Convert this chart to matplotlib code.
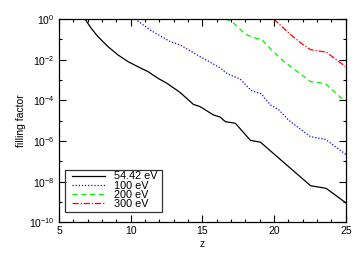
import matplotlib
matplotlib.use("Agg")
import matplotlib.pyplot as plt
import numpy as np
from matplotlib.ticker import FixedLocator, MultipleLocator, FuncFormatter
from matplotlib.patches import Rectangle

plt.rcParams['font.family'] = ['Liberation Sans', 'DejaVu Sans']
plt.rcParams['mathtext.fontset'] = 'custom'
plt.rcParams['mathtext.rm'] = 'Liberation Sans'
plt.rcParams['mathtext.it'] = 'Liberation Sans:italic'

# data: redshift z and log10(filling factor)
z_5442 = [6.81, 7.25, 7.72, 8.42, 9.12, 9.82, 10.51, 11.21, 11.91, 12.52, 13.44, 14.37, 14.84,
          15.77, 16.23, 16.6, 17.3, 18.35, 19.05, 22.54, 23.63, 25.0]
lg_5442 = [0.0, -0.46, -0.87, -1.36, -1.77, -2.10, -2.35, -2.59, -2.92, -3.16, -3.61, -4.20, -4.31,
           -4.72, -4.82, -5.05, -5.13, -5.97, -6.06, -8.20, -8.33, -9.04]

z_100 = [10.3, 11.35, 12.75, 13.45, 14.84, 15.68, 16.23, 16.75, 17.63, 18.4, 19.1, 19.75,
         20.35, 21.0, 21.84, 22.54, 23.58, 25.0]
lg_100 = [0.0, -0.54, -1.11, -1.28, -1.85, -2.18, -2.40, -2.70, -2.95, -3.52, -3.68, -4.23,
          -4.48, -4.97, -5.42, -5.79, -5.92, -6.66]

z_200 = [16.6, 17.07, 18.0, 18.5, 19.15, 19.95, 20.7, 21.7, 22.54, 23.58, 24.7, 25.0]
lg_200 = [0.0, -0.13, -0.75, -0.90, -1.02, -1.61, -2.10, -2.63, -3.08, -3.18, -3.90, -3.98]

z_300 = [19.97, 21.12, 21.94, 22.54, 23.63, 24.96]
lg_300 = [0.0, -0.75, -1.22, -1.51, -1.63, -2.33]

labels = ['54.42 eV', '100 eV', '200 eV', '300 eV']

fig = plt.figure(figsize=(3.64, 2.60), dpi=100)
ax = fig.add_axes([0.162, 0.145, 0.788, 0.782])

ax.plot(z_5442, 10 ** np.array(lg_5442), color='black', lw=0.9, ls='-', label=labels[0])
ax.plot(z_100, 10 ** np.array(lg_100), color='#0000ff', lw=0.9, ls=(0, (1, 1.5)), label=labels[1])
ax.plot(z_200, 10 ** np.array(lg_200), color='#00ee00', lw=0.9, ls=(0, (4, 3)), label=labels[2])
ax.plot(z_300, 10 ** np.array(lg_300), color='#ff0000', lw=0.9, ls=(0, (5, 1.5, 1, 1.5)), label=labels[3])

ax.set_yscale('log')
ax.set_xlim(5, 25)
ax.set_ylim(1e-10, 1)

ax.xaxis.set_major_locator(FixedLocator([5, 10, 15, 20, 25]))
ax.xaxis.set_minor_locator(MultipleLocator(1))
ax.yaxis.set_major_locator(FixedLocator([10.0 ** k for k in range(-10, 1, 2)]))
ax.yaxis.set_minor_locator(FixedLocator([10.0 ** k for k in range(-9, 0, 2)]))
ax.yaxis.set_major_formatter(FuncFormatter(lambda v, p: r'$10^{%d}$' % round(np.log10(v))))
ax.yaxis.set_minor_formatter(FuncFormatter(lambda v, p: ''))

ax.tick_params(which='both', direction='in', top=True, right=True, labelsize=7.5, width=0.8)
ax.tick_params(which='major', length=5, pad=3)
ax.tick_params(which='minor', length=2.5)
for s in ax.spines.values():
    s.set_linewidth(0.9)

ax.set_xlabel('z', fontsize=7.5, labelpad=2)
ax.set_ylabel('filling factor', fontsize=7.5, labelpad=2)

leg = ax.legend(loc='upper left', bbox_to_anchor=(0.047, 0.25), fontsize=7.8, frameon=False,
                handlelength=3.0, handletextpad=0.85,
                labelspacing=-0.08, borderpad=0, borderaxespad=0)
ax.add_patch(Rectangle((0.021, 0.052), 0.338, 0.203, transform=ax.transAxes,
                       fill=False, edgecolor='#333333', lw=0.9, zorder=5))

fig.savefig('out.png', dpi=100)
